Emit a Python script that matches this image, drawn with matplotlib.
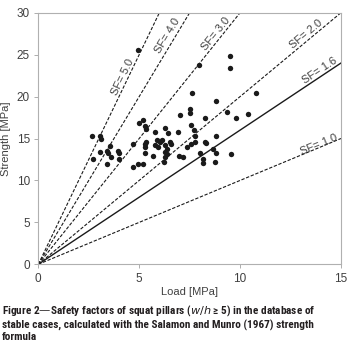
import matplotlib
matplotlib.use("Agg")
import matplotlib.pyplot as plt
import numpy as np

plt.rcParams['font.family'] = ['Liberation Sans', 'DejaVu Sans']

load = [2.67, 3.05, 3.09, 2.72, 3.05, 3.42, 3.55, 3.47, 3.42, 3.60, 3.96, 4.00, 4.00,
        4.67, 4.70, 4.95, 5.20, 4.92,
        5.00, 5.17, 5.28, 5.33, 5.78, 6.27, 6.44, 6.93, 7.02, 7.51, 7.51,
        5.28, 5.36, 5.28, 5.28, 5.86, 6.02, 6.11, 5.78, 5.94, 6.27, 6.36, 6.27, 6.36, 6.27,
        6.52, 6.60, 5.69, 6.22, 6.95, 7.15, 7.35, 7.59, 7.76, 7.59,
        7.71, 7.76, 8.25, 8.33, 8.80, 8.00, 8.17, 8.14, 8.66, 8.80, 8.75, 9.57,
        8.25, 9.82, 10.40, 9.36, 7.64, 8.80, 10.81, 7.97, 9.49, 9.49]
strength = [15.3, 15.3, 14.9, 12.55, 13.4, 13.5, 14.1, 13.3, 12.0, 12.75, 13.5, 13.25, 12.5,
            14.3, 11.6, 11.9, 11.9, 25.6,
            16.9, 17.2, 16.5, 16.1, 15.8, 16.2, 15.6, 15.8, 17.8, 18.5, 18.1,
            14.4, 14.6, 14.0, 13.3, 14.8, 14.6, 14.8, 14.2, 14.0, 14.2, 13.8, 13.4, 13.2, 12.8,
            14.6, 14.4, 12.9, 12.2, 12.9, 12.8, 14.0, 14.4, 14.6, 16.6,
            16.0, 15.3, 14.6, 14.5, 15.3, 13.3, 12.6, 12.1, 13.7, 13.3, 12.2, 13.2,
            17.4, 17.4, 17.9, 18.2, 20.4, 19.5, 20.4, 23.8, 24.8, 23.4]

sf_values = [1.0, 1.6, 2.0, 3.0, 4.0, 5.0]
sf_labels = ['SF= 1.0', 'SF= 1.6', 'SF= 2.0', 'SF= 3.0', 'SF= 4.0', 'SF= 5.0']
label_x = [13.9, 13.95, 13.25, 8.78, 6.38, 4.2]
label_y = [14.3, 23.07, 27.45, 27.45, 27.3, 22.3]

fig = plt.figure(figsize=(3.6, 3.56), dpi=100)
ax = fig.add_axes([0.1064, 0.2576, 0.8408, 0.7067])
xmax, ymax = 15, 30
ax.set_xlim(0, xmax)
ax.set_ylim(0, ymax)

for sf in sf_values:
    xend = min(xmax, ymax / sf)
    xs = np.array([0, xend])
    if sf == 1.6:
        ax.plot(xs, sf * xs, color='#1a1a1a', lw=1.0, zorder=2)
    else:
        ax.plot(xs, sf * xs, color='#1a1a1a', lw=0.8, dashes=(3, 1.5), zorder=2)

ax.scatter(load, strength, s=15, color='#1a1a1a', zorder=3, linewidths=0)

fig.canvas.draw()
for sf, lab, lx, ly in zip(sf_values, sf_labels, label_x, label_y):
    p0 = ax.transData.transform((0, 0))
    p1 = ax.transData.transform((1, sf))
    ang = np.degrees(np.arctan2(p1[1] - p0[1], p1[0] - p0[0]))
    ax.text(lx, ly, lab, rotation=ang, rotation_mode='anchor', ha='center', va='center',
            fontsize=8, color='#404040', zorder=4)

ax.set_xticks([0, 5, 10, 15])
ax.set_yticks([0, 5, 10, 15, 20, 25, 30])
ax.tick_params(axis='both', labelsize=8.5, labelcolor='#404040', length=3, width=0.6,
               direction='out', color='#a0a0a0', pad=3)
for sp in ax.spines.values():
    sp.set_color('#b0b0b0')
    sp.set_linewidth(0.8)
ax.set_xlabel('Load [MPa]', fontsize=8, color='#404040', labelpad=2)
ax.set_ylabel('Strength [MPa]', fontsize=8, color='#404040', labelpad=4)

cap = ("Figure 2\u2014Safety factors of squat pillars ($\\it{w/h}$ \u2265 5) in the database of\n"
       "stable cases, calculated with the Salamon and Munro (1967) strength\n"
       "formula")
fig.text(0.005, 0.148, cap, ha='left', va='top', fontsize=8.1, fontweight='bold',
         family=['Roboto Condensed', 'Liberation Sans', 'DejaVu Sans'],
         color='#231f20', linespacing=1.12)

fig.savefig('out.png', dpi=100)
